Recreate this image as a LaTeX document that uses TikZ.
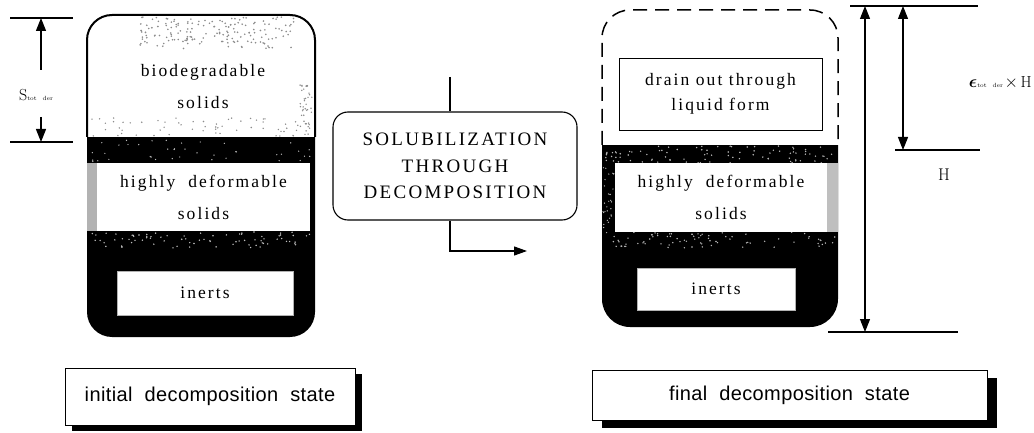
\documentclass[tikz,border=0pt]{standalone}
\usepackage{fontspec}
\usetikzlibrary{arrows.meta,shadows}
\newfontfamily\bodyfont[LetterSpace=12]{Liberation Serif}
\newfontfamily\capfont[LetterSpace=12]{Liberation Serif}
\newfontfamily\labfont[LetterSpace=2]{Liberation Sans}
\tikzset{
  body/.style={font=\bodyfont\fontsize{17.5}{32}\selectfont, align=center, inner sep=0pt},
  whitebox/.style={fill=white, inner sep=0pt, align=center, font=\bodyfont\fontsize{17.5}{32}\selectfont},
  dimline/.style={line width=1.3pt},
  dimarrow/.style={line width=1.4pt, -{Triangle[length=13pt,width=10pt]}},
  dimboth/.style={line width=1.1pt, {Triangle[length=13pt,width=10pt]}-{Triangle[length=13pt,width=10pt]}},
  statebox/.style={draw, line width=1pt, fill=white, font=\labfont\fontsize{20}{20}\selectfont, inner sep=0pt}
}
\begin{document}
\begin{tikzpicture}[x=1pt,y=-1pt]
\useasboundingbox (0,0) rectangle (1034,433);

% ---------- left container ----------
\begin{scope}
  \clip[rounded corners=25pt] (87,15) rectangle (315,337);
  \fill[black] (80,137) rectangle (320,345);
  \fill[gray!60] (87,163) rectangle (97,231);
  \pgfmathsetseed{11}
  \foreach \i in {1,...,170}{
    \pgfmathsetmacro\px{140+155*rnd}\pgfmathsetmacro\py{17+32*rnd}
    \fill[gray!90] (\px,\py) circle (0.9pt);}
  \foreach \i in {1,...,60}{
    \pgfmathsetmacro\px{92+220*rnd}\pgfmathsetmacro\py{118+18*rnd}
    \fill[gray!90] (\px,\py) circle (0.8pt);}
  \foreach \i in {1,...,40}{
    \pgfmathsetmacro\px{300+12*rnd}\pgfmathsetmacro\py{85+50*rnd}
    \fill[gray!90] (\px,\py) circle (0.8pt);}
  \foreach \i in {1,...,80}{
    \pgfmathsetmacro\px{90+222*rnd}\pgfmathsetmacro\py{232+16*rnd}
    \fill[gray!50] (\px,\py) circle (0.8pt);}
  \foreach \i in {1,...,40}{
    \pgfmathsetmacro\px{90+222*rnd}\pgfmathsetmacro\py{140+22*rnd}
    \fill[gray!50] (\px,\py) circle (0.7pt);}
\end{scope}
\draw[line width=2pt, rounded corners=25pt] (87,137) -- (87,15) -- (315,15) -- (315,137);

\node[body] (bio) at (203,87) {biodegradable\\solids};
\node[whitebox, minimum width=213pt, minimum height=68pt] (hd1) at (203.5,197) {highly\ \ deformable\\solids};
\node[whitebox, draw=gray!60, line width=0.6pt, minimum width=176pt, minimum height=44pt] (in1) at (205,293) {inerts};

% left dimension
\coordinate (st1) at (10,18);  \coordinate (st2) at (73,18);
\coordinate (sb1) at (10,142); \coordinate (sb2) at (73,142);
\draw[dimline] (st1) -- (st2);
\draw[dimline] (sb1) -- (sb2);
\coordinate (sa1) at (41,70);  \coordinate (sa1t) at (41,18);
\coordinate (sa2) at (41,117); \coordinate (sa2t) at (41,142);
\draw[dimarrow] (sa1) -- (sa1t);
\draw[dimarrow] (sa2) -- (sa2t);
\node[inner sep=0pt] (slab) at (36,95) {{\fontsize{16}{16}\selectfont S}{\fontsize{6}{6}\selectfont tot\quad der}};

% ---------- middle ----------
\node[draw, line width=1.1pt, rounded corners=15pt, minimum width=244pt, minimum height=108pt,
      font=\capfont\fontsize{19}{26.5}\selectfont, align=center, inner sep=0pt] (sol) at (455,166)
      {SOLUBILIZATION\\THROUGH\\DECOMPOSITION};
\coordinate (solin) at (450,77);
\coordinate (solend) at (527,251);
\draw[line width=1.3pt] (solin) -- (sol.north -| solin);
\draw[line width=1.2pt, -{Triangle[length=13pt,width=9pt]}] (sol.south -| solin) |- (solend);

% ---------- right container ----------
\begin{scope}
  \clip[rounded corners=28pt] (602,10) rectangle (838,327);
  \fill[black] (595,145) rectangle (845,335);
  \fill[gray!50] (827,163) rectangle (838,232);
  \pgfmathsetseed{23}
  \foreach \i in {1,...,90}{
    \pgfmathsetmacro\px{604+232*rnd}\pgfmathsetmacro\py{146+17*rnd}
    \fill[gray!55] (\px,\py) circle (0.8pt);}
  \foreach \i in {1,...,80}{
    \pgfmathsetmacro\px{604+232*rnd}\pgfmathsetmacro\py{232+16*rnd}
    \fill[gray!55] (\px,\py) circle (0.8pt);}
  \foreach \i in {1,...,30}{
    \pgfmathsetmacro\px{603+11*rnd}\pgfmathsetmacro\py{163+70*rnd}
    \fill[gray!55] (\px,\py) circle (0.7pt);}
\end{scope}
\draw[line width=1.5pt, dash pattern=on 14pt off 8pt, rounded corners=28pt] (602,145) -- (602,10) -- (838,10) -- (838,145);

\node[whitebox, draw, line width=0.8pt, minimum width=203pt, minimum height=72pt,
      font=\bodyfont\fontsize{17.5}{25}\selectfont] (drain) at (720.5,94) {drain\ out\ through\\liquid\ form};
\node[whitebox, minimum width=212pt, minimum height=69pt] (hd2) at (721,197.5) {highly\ \ deformable\\solids};
\node[whitebox, draw=gray!60, line width=0.6pt, minimum width=158pt, minimum height=42pt] (in2) at (716,289) {inerts};

% right dimensions
\coordinate (ht1) at (850,6);  \coordinate (ht2) at (978,6);
\coordinate (hb1) at (828,332); \coordinate (hb2) at (958,332);
\coordinate (hm1) at (895,150); \coordinate (hm2) at (980,150);
\draw[dimline] (ht1) -- (ht2);
\draw[dimline] (hb1) -- (hb2);
\draw[dimline] (hm1) -- (hm2);
\coordinate (ha1) at (865,6);  \coordinate (ha2) at (865,332);
\coordinate (hc1) at (903,6);  \coordinate (hc2) at (903,150);
\draw[dimboth] (ha1) -- (ha2);
\draw[dimboth] (hc1) -- (hc2);
\node[inner sep=0pt, anchor=east] (epslab) at (1032,83)
  {{\fontsize{16}{16}\selectfont\boldmath$\epsilon$}{\fontsize{6}{6}\selectfont tot\quad der}\,{\fontsize{16}{16}\selectfont$\times$\,H}};
\node[inner sep=0pt] (hlab) at (944,175) {\fontsize{17}{17}\selectfont H};

% ---------- state labels ----------
\node[statebox, minimum width=290pt, minimum height=57pt,
      drop shadow={shadow xshift=7pt, shadow yshift=-6pt, opacity=1, fill=black}] (lab1) at (210,396.5)
      {initial\ \ decomposition\ \ state};
\node[statebox, minimum width=395pt, minimum height=50pt,
      drop shadow={shadow xshift=10pt, shadow yshift=-8pt, opacity=1, fill=black}] (lab2) at (789.5,395)
      {final\ \ decomposition\ \ state};
\end{tikzpicture}
\end{document}
